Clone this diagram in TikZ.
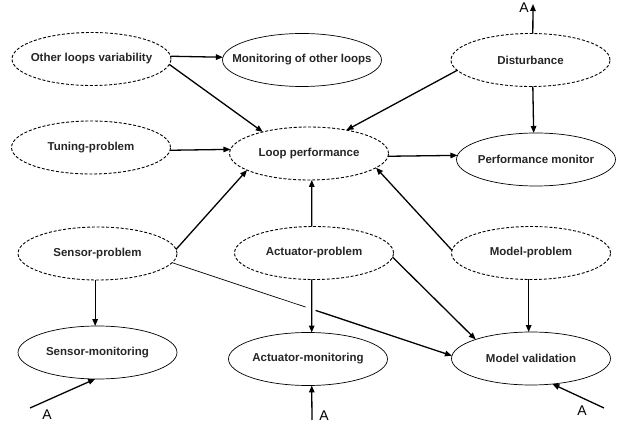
\documentclass[tikz,border=0pt]{standalone}
\usepackage{fontspec}
\setmainfont{Liberation Sans}
\usetikzlibrary{shapes.geometric,arrows.meta,calc}
\newcommand{\ntxt}[1]{\raisebox{-2.5pt}{\makebox[0pt]{#1}}}
\tikzset{
  base/.style={ellipse, draw, minimum width=159pt, minimum height=53pt, inner sep=0pt, outer sep=0pt,
    font=\fontsize{11.5}{13}\selectfont\bfseries, text=black!85},
  cause/.style={base, line width=0.9pt, dash pattern=on 3pt off 1.8pt},
  monit/.style={base, line width=0.7pt},
  conn/.style={line width=1.3pt, -{Triangle[length=7pt,width=5.5pt]}},
  thinconn/.style={line width=0.7pt},
  alabel/.style={font=\fontsize{14}{16}\selectfont, inner sep=0pt}
}
\begin{document}
\begin{tikzpicture}[x=1pt,y=-1pt]
\useasboundingbox (0,0) rectangle (627,430);
% nodes
\node[cause] (olv) at (91.5,59) {\ntxt{Other loops variability}};
\node[monit] (mon) at (302,60) {\ntxt{Monitoring of other loops}};
\node[cause] (dist) at (530.5,60) {\ntxt{Disturbance}};
\node[cause] (tun) at (91,147.5) {\ntxt{Tuning-problem}};
\node[cause] (lp) at (309,153.5) {\ntxt{Loop performance}};
\node[monit] (pm) at (536,159.5) {\ntxt{Performance monitor}};
\node[cause] (sp) at (97.5,253.5) {\ntxt{Sensor-problem}};
\node[cause] (ap) at (314,253) {\ntxt{Actuator-problem}};
\node[cause] (mp) at (531,253) {\ntxt{Model-problem}};
\node[monit] (sm) at (97.5,352.5) {\ntxt{Sensor-monitoring}};
\node[monit] (am) at (308,359) {\ntxt{Actuator-monitoring}};
\node[monit] (mv) at (531,358.5) {\ntxt{Model validation}};
% free ends
\coordinate (aTop) at (533,4);
\coordinate (aSM) at (30,408);
\coordinate (aAM) at (312,420);
\coordinate (aMV) at (604,408);
\node[alabel] (lTop) at (524,8) {A};
\node[alabel] (lSM) at (47,415) {A};
\node[alabel] (lAM) at (324,416) {A};
\node[alabel] (lMV) at (582,411) {A};
% connectors
\draw[conn] (olv.2) -- (mon.178);
\draw[conn] (olv.-4) -- (lp.155);
\draw[conn] (tun.-2) -- (lp.177);
\draw[conn] (dist.188) -- (lp.32);
\draw[conn] (dist.85) -- (aTop);
\draw[conn] (dist.-85) -- (pm.95);
\draw[conn] (lp.-2) -- (pm.177);
\draw[conn] (sp.3) -- (lp.195);
\draw[conn] (ap.95) -- (lp.-84);
\draw[conn] (mp.178) -- (lp.-12);
\draw[conn] (sp.-95) -- (sm.95);
\draw[conn] (ap.-95) -- (am.82);
\draw[conn] (ap.-3) -- (mv.161);
\draw[conn] (mp.-95) -- (mv.95);
\draw[thinconn] (sp.-7) -- ($(sp.-7)!0.477!(mv.178)$);
\draw[conn] ($(sp.-7)!0.513!(mv.178)$) -- (mv.178);
\draw[conn] (aSM) -- (sm.-95);
\draw[conn] (aAM) -- (am.-82);
\draw[conn] (aMV) -- (mv.-50);
\end{tikzpicture}
\end{document}
